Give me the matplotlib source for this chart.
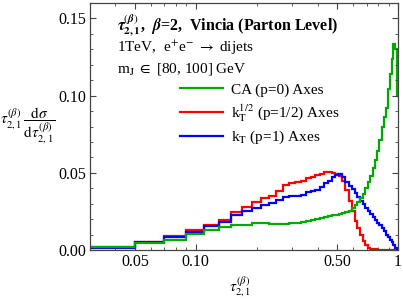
import numpy as np
import matplotlib
matplotlib.use("Agg")
import matplotlib.pyplot as plt
from matplotlib.ticker import FixedLocator, FixedFormatter, NullFormatter

plt.rcParams['font.family'] = ['Liberation Serif', 'DejaVu Serif']
plt.rcParams['mathtext.fontset'] = 'stix'

# bin edges (width 0.02) and per-bin values
edges = np.round(np.arange(0.03, 1.0101, 0.02), 3)

ca = [0.0017, 0.0044, 0.0068, 0.0102, 0.0130, 0.0151, 0.0160, 0.0165, 0.0172, 0.0173,
      0.0170, 0.0168, 0.0170, 0.0172, 0.0175, 0.0180, 0.0188, 0.0193, 0.0198, 0.0205,
      0.0212, 0.0218, 0.0224, 0.0228, 0.0232, 0.0238, 0.0245, 0.0255, 0.0270, 0.0290,
      0.0310, 0.0340, 0.0365, 0.0400, 0.0440, 0.0480, 0.0530, 0.0580, 0.0640, 0.0710,
      0.0800, 0.0860, 0.0920, 0.1040, 0.1140, 0.1240, 0.1335, 0.1305, 0.1000]

kt_half = [0.0017, 0.0054, 0.0090, 0.0130, 0.0162, 0.0195, 0.0245, 0.0280, 0.0310, 0.0335,
           0.0350, 0.0385, 0.0420, 0.0435, 0.0440, 0.0450, 0.0465, 0.0475, 0.0485, 0.0495,
           0.0505, 0.0505, 0.0500, 0.0495, 0.0480, 0.0450, 0.0390, 0.0320, 0.0250, 0.0190,
           0.0140, 0.0100, 0.0060, 0.0030, 0.0015, 0.0008, 0.0005, 0.0004, 0.0003, 0.0003,
           0.0003, 0.0002, 0.0002, 0.0002, 0.0001, 0.0001, 0.0001, 0.0000, 0.0000]

kt = [0.0016, 0.0050, 0.0085, 0.0118, 0.0156, 0.0184, 0.0225, 0.0255, 0.0270, 0.0290,
      0.0305, 0.0325, 0.0345, 0.0350, 0.0352, 0.0355, 0.0375, 0.0382, 0.0390, 0.0410,
      0.0435, 0.0450, 0.0470, 0.0488, 0.0490, 0.0470, 0.0440, 0.0415, 0.0395, 0.0370,
      0.0345, 0.0320, 0.0300, 0.0275, 0.0255, 0.0235, 0.0215, 0.0195, 0.0175, 0.0160,
      0.0140, 0.0120, 0.0100, 0.0085, 0.0068, 0.0050, 0.0035, 0.0012, 0.0000]

labels = ["CA (p=0) Axes",
          r"k$_\mathrm{T}^{1/2}$ (p=1/2) Axes",
          r"k$_\mathrm{T}$ (p=1) Axes"]
colors = ['#00aa00', '#ff0000', '#0000ff']

xticks = [0.05, 0.10, 0.50, 1]
xticklabels = ['0.05', '0.10', '0.50', '1']
yticks = [0.00, 0.05, 0.10, 0.15]
yticklabels = ['0.00', '0.05', '0.10', '0.15']

fig = plt.figure(figsize=(4.03, 2.99), dpi=100)
ax = fig.add_axes([90 / 403, 1 - 250 / 299, 308 / 403, 247 / 299])

h_red = ax.stairs(kt_half, edges, baseline=None, color=colors[1], lw=1.6)
h_blue = ax.stairs(kt, edges, baseline=None, color=colors[2], lw=1.6)
h_green = ax.stairs(ca, edges, baseline=None, color=colors[0], lw=1.6)

ax.set_xscale('log')
ax.set_xlim(0.03, 1.0)
ax.set_ylim(0, 0.16)

ax.xaxis.set_major_locator(FixedLocator(xticks))
ax.xaxis.set_major_formatter(FixedFormatter(xticklabels))
minor_x = [0.03, 0.04, 0.06, 0.07, 0.08, 0.09, 0.2, 0.3, 0.4, 0.6, 0.7, 0.8, 0.9]
ax.xaxis.set_minor_locator(FixedLocator(minor_x))
ax.xaxis.set_minor_formatter(NullFormatter())
ax.yaxis.set_major_locator(FixedLocator(yticks))
ax.yaxis.set_major_formatter(FixedFormatter(yticklabels))
ax.yaxis.set_minor_locator(FixedLocator(np.arange(0, 0.161, 0.01)))

ax.tick_params(which='both', direction='in', top=True, right=True, labelsize=11.5,
               colors='#444444', labelcolor='black')
ax.tick_params(which='major', length=4.5, width=0.8, pad=3)
ax.tick_params(which='minor', length=2.5, width=0.6)
for s in ax.spines.values():
    s.set_color('#444444')
    s.set_linewidth(0.9)

# header text
fig.text(117 / 403, 1 - 31 / 299,
         r"$\boldsymbol{\tau}_{\mathbf{2,1}}^{(\boldsymbol{\beta})}$,  $\boldsymbol{\beta}$=2,  Vincia (Parton Level)",
         fontsize=11.5, fontweight='bold', va='baseline')
fig.text(117 / 403, 1 - 52 / 299, r"1TeV,  e$^{+}$e$^{-}$ $\rightarrow$ dijets",
         fontsize=11, va='baseline')
fig.text(117 / 403, 1 - 72 / 299, r"m$_\mathrm{J}$ $\in$ [80, 100] GeV",
         fontsize=11, va='baseline')

ax.legend([h_green, h_red, h_blue], labels, loc='upper left',
          bbox_to_anchor=((180 - 90) / 308, (250 - 83) / 247), frameon=False,
          fontsize=11, handlelength=2.8, handletextpad=0.55, labelspacing=0.35,
          borderpad=0, borderaxespad=0)

fig.text(28 / 403, 1 - 126 / 299,
         r"$\tau_{2,1}^{(\beta)}\,\dfrac{\mathrm{d}\sigma}{\mathrm{d}\tau_{2,1}^{(\beta)}}$",
         fontsize=11, ha='center', va='center')
fig.text(240 / 403, 1 - 287 / 299, r"$\tau_{2,1}^{(\beta)}$", fontsize=11,
         ha='center', va='center')

fig.savefig('out.png', dpi=100)
